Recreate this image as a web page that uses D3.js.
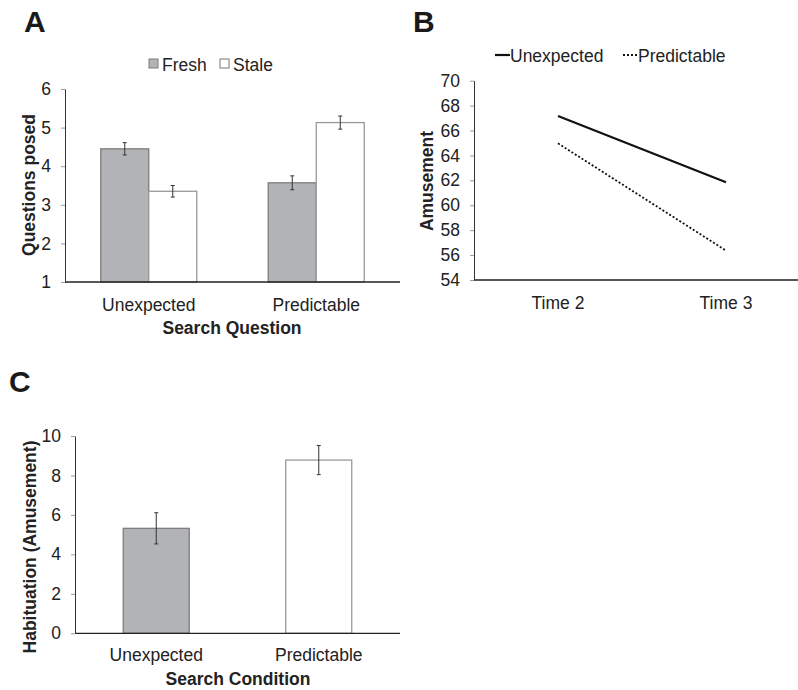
<!DOCTYPE html>
<html>
<head>
<meta charset="utf-8">
<script src="https://cdn.jsdelivr.net/npm/d3@7"></script>
<style>
  body { margin: 0; background: #fff; }
  svg { font-family: "Liberation Sans", Arial, sans-serif; display: block; }
  .tick line { stroke: #9a9a9a; }
  .tick text { fill: #222; }
</style>
</head>
<body>
<svg width="798" height="690"></svg>
<script>
const svg = d3.select("svg");

// DATA
// panel A
const questionCats = ["Unexpected", "Predictable"];
const questionSeries = ["Fresh", "Stale"];
const questionMeans = [[4.45, 3.35], [3.57, 5.13]];
const questionErrs = [[0.16, 0.15], [0.18, 0.17]];
const questionTicks = [1, 2, 3, 4, 5, 6];

// panel B
const timeCats = ["Time 2", "Time 3"];
const amuseSeries = ["Unexpected", "Predictable"];
const amuseValues = [[67.17, 61.85], [64.97, 56.36]];
const amuseTicks = [54, 56, 58, 60, 62, 64, 66, 68, 70];

// panel C
const habitCats = ["Unexpected", "Predictable"];
const habitMeans = [5.32, 8.78];
const habitErrs = [0.79, 0.74];
const habitTicks = [0, 2, 4, 6, 8, 10];

const grayFill = "#b2b3b6";
const grayStroke = "#7d7d7d";
const whiteStroke = "#9a9a9a";
const errColor = "#333";
const fs = 17.5;

function panelLetter(txt, x, y) {
  svg.append("text").attr("x", x).attr("y", y)
    .attr("font-size", 30).attr("font-weight", "bold").attr("fill", "#1a1a1a")
    .text(txt);
}

function drawAxes(g, y, ticks, x0, y0, x1) {
  g.append("line").attr("x1", x0).attr("x2", x1).attr("y1", y0).attr("y2", y0)
    .attr("stroke", "#222").attr("stroke-width", 1.3);
  const ya = g.append("g").attr("transform", `translate(${x0},0)`)
    .call(d3.axisLeft(y).tickValues(ticks).tickSize(4).tickSizeOuter(0).tickPadding(10).tickFormat(d3.format("d")));
  ya.selectAll("text").attr("font-size", fs);
  ya.select(".domain").attr("stroke", "#333");
}

function errBar(g, cx, y, v, e) {
  g.append("line").attr("x1", cx).attr("x2", cx).attr("y1", y(v + e)).attr("y2", y(v - e))
    .attr("stroke", errColor);
  [v + e, v - e].forEach(t => g.append("line")
    .attr("x1", cx - 2).attr("x2", cx + 2).attr("y1", y(t)).attr("y2", y(t))
    .attr("stroke", errColor));
}

function label(g, txt, x, y, bold) {
  g.append("text").attr("x", x).attr("y", y).attr("text-anchor", "middle")
    .attr("font-size", fs).attr("font-weight", bold ? "bold" : "normal")
    .attr("fill", "#222").text(txt);
}

function yLabel(g, txt, x, y) {
  g.append("text").attr("transform", `translate(${x},${y}) rotate(-90)`)
    .attr("text-anchor", "middle").attr("font-size", fs).attr("font-weight", "bold")
    .attr("fill", "#222").text(txt);
}

// ---------- Panel A ----------
panelLetter("A", 24, 32);
{
  const g = svg.append("g");
  const x = d3.scaleBand().domain(questionCats).range([65, 400]);
  const xs = d3.scaleBand().domain(questionSeries).range([0, 96]);
  const y = d3.scaleLinear().domain([1, 6]).range([282, 89]);
  const pad = (x.bandwidth() - 96) / 2;

  questionCats.forEach((c, i) => {
    questionSeries.forEach((s, j) => {
      const bx = x(c) + pad + xs(s);
      const v = questionMeans[i][j];
      g.append("rect")
        .attr("x", bx).attr("y", y(v))
        .attr("width", xs.bandwidth()).attr("height", y(1) - y(v))
        .attr("fill", j === 0 ? grayFill : "#fff")
        .attr("stroke", j === 0 ? grayStroke : whiteStroke)
        .attr("stroke-width", 1.3);
      errBar(g, bx + xs.bandwidth() / 2, y, v, questionErrs[i][j]);
    });
  });

  drawAxes(g, y, questionTicks, 65, 282, 400);

  questionCats.forEach(c => label(g, c, x(c) + x.bandwidth() / 2, 311));
  label(g, "Search Question", 232, 334, true);
  yLabel(g, "Questions posed", 35, 185);

  // legend
  const legX = [149, 220];
  questionSeries.forEach((s, j) => {
    g.append("rect").attr("x", legX[j]).attr("y", 59).attr("width", 9).attr("height", 9)
      .attr("fill", j === 0 ? grayFill : "#fff")
      .attr("stroke", j === 0 ? grayStroke : "#777").attr("stroke-width", 1);
    g.append("text").attr("x", legX[j] + 13).attr("y", 71)
      .attr("font-size", fs).attr("fill", "#222").text(s);
  });
}

// ---------- Panel B ----------
panelLetter("B", 413, 32);
{
  const g = svg.append("g");
  const x = d3.scaleBand().domain(timeCats).range([474, 810]);
  const y = d3.scaleLinear().domain([54, 70]).range([280, 80.7]);
  const dash = ["none", "2,2"];
  const widths = [2.2, 1.8];

  amuseSeries.forEach((s, i) => {
    const line = d3.line()
      .x((d, k) => x(timeCats[k]) + x.bandwidth() / 2)
      .y(d => y(d));
    g.append("path").datum(amuseValues[i])
      .attr("d", line).attr("fill", "none")
      .attr("stroke", "#111").attr("stroke-width", widths[i])
      .attr("stroke-dasharray", dash[i]);
  });

  drawAxes(g, y, amuseTicks, 474, 280, 798);

  timeCats.forEach(c => label(g, c, x(c) + x.bandwidth() / 2, 309));
  yLabel(g, "Amusement", 433, 181);

  // legend
  const legX = [495, 623];
  amuseSeries.forEach((s, i) => {
    g.append("line").attr("x1", legX[i]).attr("x2", legX[i] + 15).attr("y1", 55).attr("y2", 55)
      .attr("stroke", "#111").attr("stroke-width", widths[i]).attr("stroke-dasharray", dash[i]);
    g.append("text").attr("x", legX[i] + 15).attr("y", 62)
      .attr("font-size", fs).attr("fill", "#222").text(s);
  });
}

// ---------- Panel C ----------
panelLetter("C", 9, 392);
{
  const g = svg.append("g");
  const x = d3.scaleBand().domain(habitCats).range([75, 400]);
  const y = d3.scaleLinear().domain([0, 10]).range([633.3, 436]);
  const bw = 66;

  habitCats.forEach((c, i) => {
    const bx = x(c) + (x.bandwidth() - bw) / 2;
    const v = habitMeans[i];
    g.append("rect").attr("x", bx).attr("y", y(v))
      .attr("width", bw).attr("height", y(0) - y(v))
      .attr("fill", i === 0 ? grayFill : "#fff")
      .attr("stroke", i === 0 ? grayStroke : whiteStroke).attr("stroke-width", 1.3);
    errBar(g, bx + bw / 2, y, v, habitErrs[i]);
  });

  drawAxes(g, y, habitTicks, 75, 633.3, 400);

  habitCats.forEach(c => label(g, c, x(c) + x.bandwidth() / 2, 661));
  label(g, "Search Condition", 238, 685, true);
  yLabel(g, "Habituation (Amusement)", 36, 547);
}
</script>
</body>
</html>
